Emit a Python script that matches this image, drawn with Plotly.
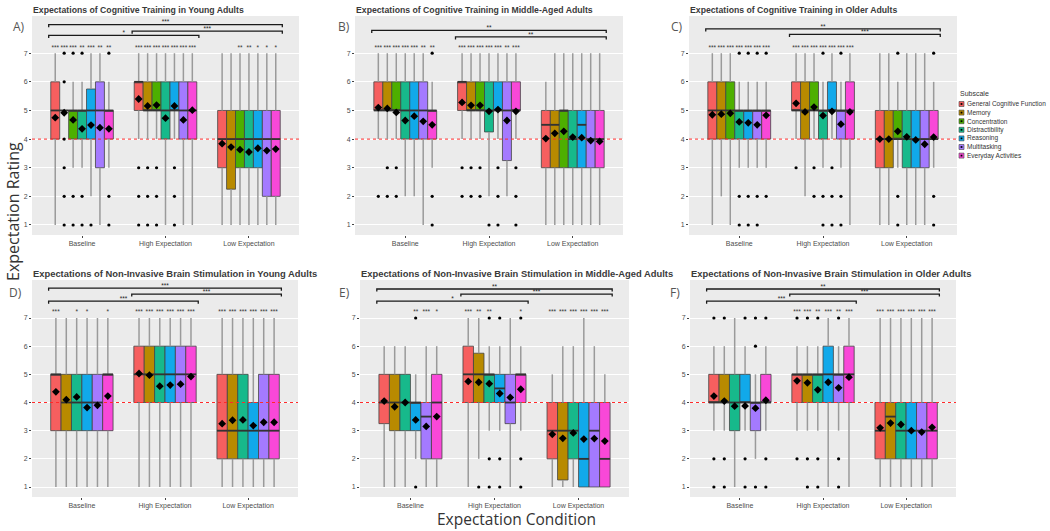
import plotly.graph_objects as go

# ---------------- data ----------------
CONDITIONS = ["Baseline", "High Expectation", "Low Expectation"]
SUBSCALES_CT = ["General Cognitive Function", "Memory", "Concentration", "Distractibility",
                "Reasoning", "Multitasking", "Everyday Activities"]
SUBSCALES_NIBS = ["General Cognitive Function", "Memory", "Distractibility",
                  "Reasoning", "Multitasking", "Everyday Activities"]
SUBSCALE_COLORS = ["#F65F5F", "#B88A00", "#4DAF00", "#17B98B", "#11A9EA", "#A47AFF", "#F948D8"]

TITLES = ["Expectations of Cognitive Training in Young Adults",
          "Expectations of Cognitive Training in Middle-Aged Adults",
          "Expectations of Cognitive Training in Older Adults",
          "Expectations of Non-Invasive Brain Stimulation in Young Adults",
          "Expectations of Non-Invasive Brain Stimulation in Middle-Aged Adults",
          "Expectations of Non-Invasive Brain Stimulation in Older Adults"]
PANEL_LABELS = ["A)", "B)", "C)", "D)", "E)", "F)"]
Y_TICKS = [1, 2, 3, 4, 5, 6, 7]
REFERENCE_RATING = 4

# Panel A: cognitive training, young adults (rows: Baseline, High, Low)
A_q1 = [[4, 5, 4, 4, 4, 3, 4], [5, 5, 5, 4, 5, 4, 4], [3, 2.25, 3, 3, 3, 2, 2]]
A_med = [[5, 5, 5, 5, 5, 5, 5], [6, 5, 5, 5, 5, 5, 5], [4, 4, 4, 4, 4, 4, 4]]
A_q3 = [[6, 5, 5, 5, 5.75, 6, 5], [6, 6, 6, 6, 6, 6, 6], [5, 5, 5, 5, 5, 5, 5]]
A_lo = [[1, 5, 3, 3, 2, 1, 3], [4, 4, 4, 1, 4, 1, 1], [1, 1, 1, 1, 1, 1, 1]]
A_hi = [[7, 5, 6, 6, 7, 7, 6], [7, 7, 7, 7, 7, 7, 7], [7, 7, 7, 7, 7, 7, 7]]
A_mean = [[4.75, 4.92, 4.67, 4.36, 4.49, 4.40, 4.36], [5.40, 5.16, 5.19, 4.73, 5.16, 4.67, 5.01],
          [3.84, 3.72, 3.63, 3.55, 3.68, 3.60, 3.65]]
A_out = [[[], [7, 6, 4, 3, 2, 1], [7, 2, 1], [7, 2, 1], [1], [], [7, 2, 1]],
         [[3, 2, 1], [3, 2, 1], [3, 2, 1], [], [3, 2, 1], [], []],
         [[], [], [], [], [], [], []]]
A_stars = [["***", "***", "***", "**", "***", "**", "**"],
           ["***", "***", "***", "***", "***", "***", "***"],
           ["", "", "**", "**", "*", "*", "*"]]
A_brackets = [(0, 2, 8.0, "***"), (1, 2, 7.77, "***"), (0, 1, 7.62, "*")]

# Panel B: cognitive training, middle-aged adults
B_q1 = [[5, 5, 5, 4, 4, 4, 4], [5, 5, 5, 4.25, 5, 3.25, 5], [3, 3, 3, 3, 3, 3, 3]]
B_med = [[5, 5, 5, 5, 5, 5, 5], [6, 5, 5, 5, 5, 5, 5], [4.5, 4.5, 5, 4, 4.5, 4, 4]]
B_q3 = [[6, 6, 6, 6, 6, 6, 5], [6, 6, 6, 6, 6, 6, 6], [5, 5, 5, 5, 5, 5, 5]]
B_lo = [[4, 4, 4, 2, 2, 1, 3], [4, 4, 4, 2, 4, 2, 4], [1, 1, 1, 1, 1, 1, 1]]
B_hi = [[7, 7, 7, 7, 7, 7, 6], [7, 7, 7, 7, 7, 7, 7], [6, 7, 7, 7, 7, 7, 7]]
B_mean = [[5.10, 5.07, 4.93, 4.65, 4.80, 4.62, 4.50], [5.28, 5.18, 5.18, 4.97, 5.03, 4.65, 4.97],
          [4.02, 4.20, 4.27, 4.07, 4.05, 3.95, 3.92]]
B_out = [[[2], [3, 2], [3, 2], [], [], [], [7, 2, 1]],
         [[3, 2], [3, 2], [3, 2], [1], [3, 2, 1], [], [3, 2, 1]],
         [[], [], [], [], [], [], []]]
B_stars = [["***", "***", "***", "***", "***", "**", "**"],
           ["***", "***", "***", "***", "***", "**", "***"],
           ["", "", "", "", "", "", ""]]
B_brackets = [(0, 2, 7.8, "**"), (1, 2, 7.57, "**")]

# Panel C: cognitive training, older adults
C_q1 = [[4, 4, 4, 4, 4, 4, 4], [5, 4, 5, 4, 5, 4, 4], [3, 3, 4, 3, 3, 3, 4]]
C_med = [[5, 5, 5, 5, 5, 5, 5], [5, 5, 5, 5, 5, 5, 5], [4, 4, 4, 4, 4, 4, 4]]
C_q3 = [[6, 6, 6, 5, 5, 5, 5], [6, 6, 6, 5, 6, 5, 6], [5, 5, 5, 5, 5, 5, 5]]
C_lo = [[1, 2, 1, 3, 3, 3, 3], [4, 2, 4, 3, 4, 3, 1], [1, 1, 3, 1, 1, 1, 3]]
C_hi = [[7, 7, 7, 6, 6, 6, 6], [7, 7, 7, 6, 7, 6, 7], [7, 7, 6, 7, 7, 7, 6]]
C_mean = [[4.85, 4.87, 4.90, 4.60, 4.57, 4.50, 4.83], [5.25, 4.95, 5.12, 4.82, 4.97, 4.52, 4.95],
          [4.00, 4.00, 4.27, 4.08, 3.97, 3.82, 4.07]]
C_out = [[[], [], [], [7, 2, 1], [7, 2, 1], [7, 2, 1], [7, 2]],
         [[3], [], [3, 2], [7, 2, 1], [3, 2, 1], [7, 2, 1], []],
         [[], [], [7, 2, 1], [], [], [], [7, 2, 1]]]
C_stars = [["***", "***", "***", "***", "***", "***", "***"],
           ["***", "***", "***", "***", "***", "***", "***"],
           ["", "", "", "", "", "", ""]]
C_brackets = [(0, 2, 7.85, "**"), (1, 2, 7.66, "***")]

# Panel D: brain stimulation, young adults
D_q1 = [[3, 3, 3, 3, 3, 3], [4, 4, 4, 4, 4, 4], [2, 2, 2, 2, 2, 2]]
D_med = [[5, 4, 4, 4, 4, 5], [5, 5, 5, 5, 5, 5], [3, 3, 3, 3, 3, 3]]
D_q3 = [[5, 5, 5, 5, 5, 5], [6, 6, 6, 6, 6, 6], [5, 5, 5, 4, 5, 5]]
D_lo = [[1, 1, 1, 1, 1, 1], [1, 1, 1, 1, 1, 1], [1, 1, 1, 1, 1, 1]]
D_hi = [[7, 7, 7, 7, 7, 7], [7, 7, 7, 7, 7, 7], [7, 7, 7, 7, 7, 7]]
D_mean = [[4.38, 4.10, 4.20, 3.82, 3.90, 4.23], [5.03, 4.97, 4.58, 4.62, 4.65, 4.92],
          [3.25, 3.37, 3.38, 3.18, 3.30, 3.30]]
D_out = [[[], [], [], [], [], []], [[], [], [], [], [], []], [[], [], [], [], [], []]]
D_stars = [["***", "", "*", "*", "", "*"],
           ["***", "***", "***", "***", "***", "***"],
           ["***", "***", "***", "***", "***", "***"]]
D_brackets = [(0, 2, 8.06, "***"), (1, 2, 7.85, "***"), (0, 1, 7.6, "***")]

# Panel E: brain stimulation, middle-aged adults
E_q1 = [[3.25, 3, 3, 3, 2, 2], [4, 4, 4, 4, 3.25, 4], [2, 1.25, 2, 1, 1, 1]]
E_med = [[4, 4, 4, 4, 3.5, 4], [5, 5, 5, 4.5, 4, 5], [3, 3, 3, 2, 3, 2]]
E_q3 = [[5, 5, 5, 4, 4, 5], [6, 5.75, 5, 5, 5, 5], [4, 4, 4, 4, 4, 4]]
E_lo = [[1, 1, 1, 2, 1, 1], [1, 2, 3, 3, 1, 3], [1, 1, 1, 1, 1, 1]]
E_hi = [[6, 6, 6, 5, 6, 6], [7, 7, 6, 6, 7, 6], [5, 6, 6, 7, 6, 5]]
E_mean = [[4.05, 3.85, 4.00, 3.38, 3.15, 3.50], [4.75, 4.72, 4.67, 4.32, 4.18, 4.47],
          [2.87, 2.73, 2.92, 2.70, 2.72, 2.63]]
E_out = [[[], [], [], [7, 1], [], []],
         [[], [1], [7, 2, 1], [7, 2, 1], [], [7, 2, 1]],
         [[], [], [], [], [], []]]
E_stars = [["", "", "", "**", "***", "*"],
           ["***", "**", "**", "", "", "*"],
           ["***", "***", "***", "***", "***", "***"]]
E_brackets = [(0, 2, 8.03, "**"), (1, 2, 7.85, "***"), (0, 1, 7.6, "*")]

# Panel F: brain stimulation, older adults
F_q1 = [[4, 4, 3, 4, 3, 4], [4, 4, 4, 4, 4, 4], [2, 2, 2, 2, 2, 2]]
F_med = [[4, 4, 4, 4, 4, 4], [5, 5, 5, 5, 5, 5], [3, 3.5, 3, 3, 3, 3]]
F_q3 = [[5, 5, 5, 5, 4, 5], [5, 5, 5, 6, 5, 6], [4, 4, 4, 4, 4, 4]]
F_lo = [[3, 3, 1, 3, 2, 3], [3, 3, 3, 1, 3, 1], [1, 1, 1, 1, 1, 1]]
F_hi = [[6, 6, 7, 6, 5, 6], [6, 6, 6, 7, 6, 7], [7, 7, 7, 7, 7, 7]]
F_mean = [[4.23, 4.05, 3.87, 3.88, 3.80, 4.08], [4.77, 4.70, 4.45, 4.72, 4.52, 4.90],
          [3.10, 3.27, 3.22, 3.00, 2.95, 3.12]]
F_out = [[[7, 2, 1], [7, 2, 1], [], [7, 2, 1], [7, 6, 1], [7, 2, 1]],
         [[7, 2], [7, 2, 1], [7, 2, 1], [], [7, 2, 1], []],
         [[], [], [], [], [], []]]
F_stars = [["", "", "", "", "", ""],
           ["***", "***", "**", "***", "**", "***"],
           ["***", "***", "***", "***", "***", "***"]]
F_brackets = [(0, 2, 8.03, "**"), (1, 2, 7.85, "***"), (0, 1, 7.6, "***")]

# ---------------- layout constants (pixels of the 1050x531 page) ----------------
W, H = 1050, 531
PANEL_PX = [(32, 299, 16, 235), (355, 623, 16, 235), (689, 957, 16, 235),
            (32, 298, 280, 497), (360, 629, 280, 497), (690, 956, 280, 497)]
Y_RANGES = [[0.65, 8.3]] * 3 + [[0.645, 8.35]] * 3
X_RANGE = [0.4, 3.6]
LABEL_POS = [(19, 27), (344, 27), (677, 27), (15, 292), (344, 292), (675, 292)]
TITLE_Y = [10, 10, 10, 273, 273, 273]
TITLE_SIZE = [8.7, 8.7, 8.7, 9.4, 9.4, 9.4]
GROUP_WIDTH = 0.75

PANELS = [
    (SUBSCALES_CT, A_q1, A_med, A_q3, A_lo, A_hi, A_mean, A_out, A_stars, A_brackets),
    (SUBSCALES_CT, B_q1, B_med, B_q3, B_lo, B_hi, B_mean, B_out, B_stars, B_brackets),
    (SUBSCALES_CT, C_q1, C_med, C_q3, C_lo, C_hi, C_mean, C_out, C_stars, C_brackets),
    (SUBSCALES_NIBS, D_q1, D_med, D_q3, D_lo, D_hi, D_mean, D_out, D_stars, D_brackets),
    (SUBSCALES_NIBS, E_q1, E_med, E_q3, E_lo, E_hi, E_mean, E_out, E_stars, E_brackets),
    (SUBSCALES_NIBS, F_q1, F_med, F_q3, F_lo, F_hi, F_mean, F_out, F_stars, F_brackets),
]

color_of = dict(zip(SUBSCALES_CT, SUBSCALE_COLORS))

fig = go.Figure()
shapes, annotations = [], []
TICK_FONT = dict(family="Liberation Sans, Arial, sans-serif", size=7, color="#4D4D4D")


def px_x(p):
    return p / W


def px_y(p):
    return 1 - p / H


for k, (subs, q1, med, q3, lo, hi, mean, out, stars, brackets) in enumerate(PANELS):
    sfx = "" if k == 0 else str(k + 1)
    xa, ya = "x" + sfx, "y" + sfx
    n = len(subs)
    bw = GROUP_WIDTH / n

    def pos(i, j):
        return i + 1 + (j - (n - 1) / 2) * bw

    common = dict(xaxis=xa, yaxis=ya, showlegend=False, hoverinfo="skip")

    # reference line at rating 4
    fig.add_trace(go.Scatter(x=X_RANGE, y=[REFERENCE_RATING, REFERENCE_RATING], mode="lines",
                             line=dict(color="#FF2A2A", width=1, dash="dot"), **common))

    # boxes
    for j, s in enumerate(subs):
        fig.add_trace(go.Box(
            x=[pos(i, j) for i in range(3)],
            q1=[q1[i][j] for i in range(3)],
            median=[med[i][j] for i in range(3)],
            q3=[q3[i][j] for i in range(3)],
            lowerfence=[q1[i][j] for i in range(3)],
            upperfence=[q3[i][j] for i in range(3)],
            width=bw, whiskerwidth=0, boxpoints=False,
            fillcolor=color_of[s], line=dict(color="#444444", width=0.8),
            name=s, xaxis=xa, yaxis=ya, showlegend=False, hoverinfo="skip"))

    # whiskers (outside of the boxes only)
    wx, wy = [], []
    for i in range(3):
        for j in range(n):
            if lo[i][j] < q1[i][j]:
                wx += [pos(i, j), pos(i, j), None]
                wy += [lo[i][j], q1[i][j], None]
            if hi[i][j] > q3[i][j]:
                wx += [pos(i, j), pos(i, j), None]
                wy += [q3[i][j], hi[i][j], None]
    fig.add_trace(go.Scatter(x=wx, y=wy, mode="lines", line=dict(color="#9a9a9a", width=1.5), **common))

    # medians (thicker, as in ggplot)
    mx, my = [], []
    for i in range(3):
        for j in range(n):
            mx += [pos(i, j) - bw / 2, pos(i, j) + bw / 2, None]
            my += [med[i][j], med[i][j], None]
    fig.add_trace(go.Scatter(x=mx, y=my, mode="lines", line=dict(color="#333333", width=1.8), **common))

    # outliers
    ox, oy = [], []
    for i in range(3):
        for j in range(n):
            for v in out[i][j]:
                ox.append(pos(i, j))
                oy.append(v)
    fig.add_trace(go.Scatter(x=ox, y=oy, mode="markers", marker=dict(color="black", size=3.2), **common))

    # means
    fig.add_trace(go.Scatter(x=[pos(i, j) for i in range(3) for j in range(n)],
                             y=[mean[i][j] for i in range(3) for j in range(n)],
                             mode="markers", marker=dict(color="black", size=6, symbol="diamond"), **common))

    # significance stars above each box
    star_y = 7.16 if k < 3 else 7.2
    fig.add_trace(go.Scatter(x=[pos(i, j) for i in range(3) for j in range(n)],
                             y=[star_y] * (3 * n),
                             text=[stars[i][j] for i in range(3) for j in range(n)],
                             mode="text", textfont=dict(size=6.5, color="#333333",
                                                        family="Liberation Sans, sans-serif"),
                             **common))

    # brackets between conditions
    bx, by, lx, ly, lt = [], [], [], [], []
    for (c0, c1, lvl, lab) in brackets:
        x0 = c0 + 1 - 0.4
        x1 = c1 + 1 + 0.4
        bx += [x0, x0, x1, x1, None]
        by += [lvl - 0.09, lvl, lvl, lvl - 0.09, None]
        lx.append((x0 + x1) / 2)
        ly.append(lvl + 0.06)
        lt.append(lab)
    fig.add_trace(go.Scatter(x=bx, y=by, mode="lines", line=dict(color="#1a1a1a", width=1.3), **common))
    fig.add_trace(go.Scatter(x=lx, y=ly, text=lt, mode="text",
                             textfont=dict(size=6.5, color="#222222", family="Liberation Sans, sans-serif"),
                             **common))

    l, r, t, b = PANEL_PX[k]
    fig.layout[("xaxis" + sfx)] = dict(
        domain=[px_x(l), px_x(r)], range=X_RANGE, anchor=ya, automargin=False,
        tickvals=[1, 2, 3], ticktext=CONDITIONS, showgrid=False, zeroline=False,
        ticks="outside", ticklen=2, tickcolor="#444", tickfont=TICK_FONT, showline=False)
    fig.layout[("yaxis" + sfx)] = dict(
        domain=[px_y(b), px_y(t)], range=Y_RANGES[k], anchor=xa, automargin=False,
        tickvals=Y_TICKS, showgrid=True, gridcolor="white", gridwidth=1, zeroline=False,
        ticks="outside", ticklen=2, tickcolor="#444", tickfont=TICK_FONT, showline=False)

    annotations.append(dict(text=TITLES[k], xref="paper", yref="paper", x=px_x(l - 1), y=px_y(TITLE_Y[k]),
                            xanchor="left", yanchor="middle", showarrow=False,
                            font=dict(family="Liberation Sans, Arial, sans-serif", size=TITLE_SIZE[k],
                                      color="#3a3a3a", weight="bold")))
    lx_, ly_ = LABEL_POS[k]
    annotations.append(dict(text=PANEL_LABELS[k], xref="paper", yref="paper", x=px_x(lx_), y=px_y(ly_),
                            xanchor="center", yanchor="middle", showarrow=False,
                            font=dict(family="Open Sans, sans-serif", size=12, color="#555555")))

# global axis titles
annotations.append(dict(text="Expectation Rating", xref="paper", yref="paper", x=px_x(13), y=px_y(212),
                        textangle=-90, xanchor="center", yanchor="middle", showarrow=False,
                        font=dict(family="Open Sans, sans-serif", size=16, color="#333333")))
annotations.append(dict(text="Expectation Condition", xref="paper", yref="paper", x=px_x(516), y=px_y(519),
                        xanchor="center", yanchor="middle", showarrow=False,
                        font=dict(family="Open Sans, sans-serif", size=15.5, color="#333333")))

# legend (drawn manually to match compact ggplot key)
LEG_X, LEG_TITLE_Y, LEG_Y0, LEG_STEP, KEY = 959, 94, 104, 8.6, 5
annotations.append(dict(text="Subscale", xref="paper", yref="paper", x=px_x(LEG_X - 1), y=px_y(LEG_TITLE_Y),
                        xanchor="left", yanchor="middle", showarrow=False,
                        font=dict(family="Liberation Sans, sans-serif", size=7, color="#333")))
for j, s in enumerate(SUBSCALES_CT):
    cy = LEG_Y0 + j * LEG_STEP
    shapes.append(dict(type="rect", xref="paper", yref="paper",
                       x0=px_x(LEG_X), x1=px_x(LEG_X + KEY), y0=px_y(cy + KEY / 2), y1=px_y(cy - KEY / 2),
                       fillcolor=color_of[s], line=dict(color="#444", width=0.6)))
    shapes.append(dict(type="rect", xref="paper", yref="paper",
                       x0=px_x(LEG_X + 1.6), x1=px_x(LEG_X + KEY - 1.6), y0=px_y(cy + 0.9), y1=px_y(cy - 0.9),
                       fillcolor="black", line=dict(width=0)))
    annotations.append(dict(text=s, xref="paper", yref="paper", x=px_x(LEG_X + KEY + 1), y=px_y(cy),
                            xanchor="left", yanchor="middle", showarrow=False,
                            font=dict(family="Liberation Sans, sans-serif", size=6.5, color="#333")))

fig.update_layout(width=W, height=H, margin=dict(l=0, r=0, t=0, b=0),
                  paper_bgcolor="white", plot_bgcolor="#EBEBEB",
                  shapes=shapes, annotations=annotations, showlegend=False,
                  boxmode="overlay", hovermode=False)

# the page should show the figure flush with the window's corner, without the mode bar
fig.write_html("out.html", config={"displayModeBar": False},
               post_script="document.body.style.margin='0px';")
